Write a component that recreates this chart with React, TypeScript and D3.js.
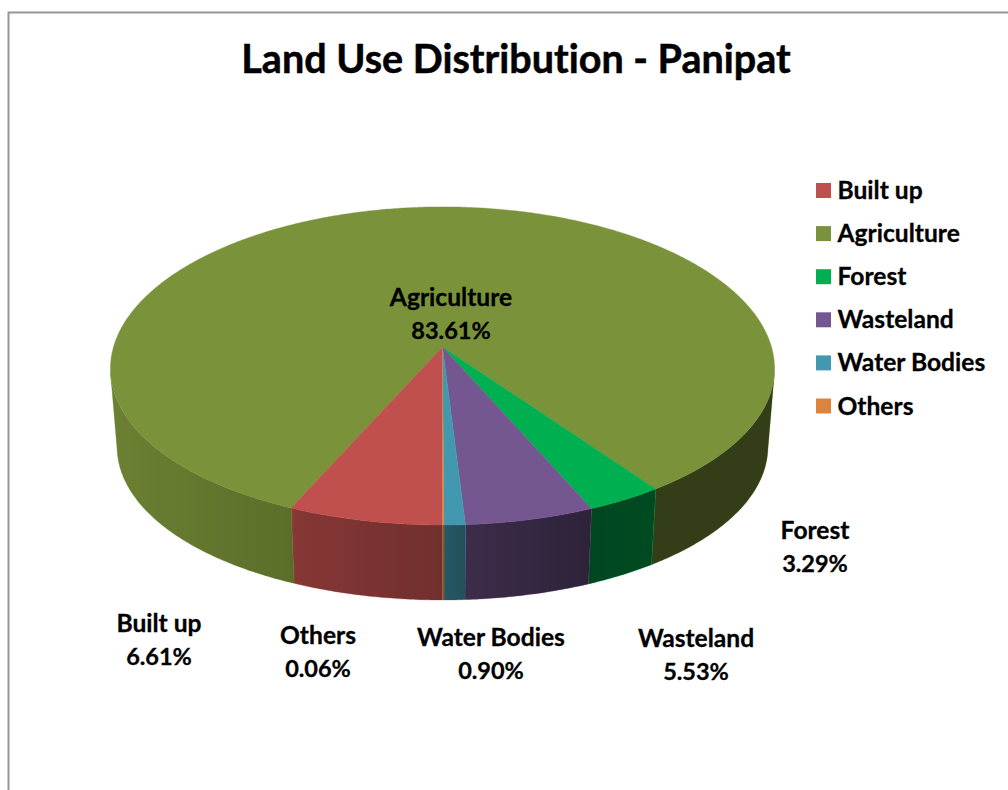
import React from "react";
import * as d3 from "d3";

const titleText = "Land Use Distribution - Panipat";
const categories = ["Built up", "Agriculture", "Forest", "Wasteland", "Water Bodies", "Others"];
const shares = [6.61, 83.61, 3.29, 5.53, 0.9, 0.06];
const shareLabels = ["6.61%", "83.61%", "3.29%", "5.53%", "0.90%", "0.06%"];
const colors = ["#c0504d", "#7a9239", "#00b050", "#745790", "#4198af", "#db843d"];

// layout: where each data label is centred (x, first baseline)
const labelAnchors: [number, number][] = [
  [159, 632], [451, 306], [815, 539], [696, 647], [491, 646], [318, 644],
];

const W = 1008, H = 790;
const FONT = "Lato, 'Open Sans', sans-serif";
const ax = 442.5, ay = 347, R = 329, S = 156.8, P = 0.119, PX = 0.135;
const nadirY = 4275, shrink = 0.98;

type Pt = [number, number];
const top = (a: number): Pt => {
  const X = Math.sin(a), Y = -Math.cos(a);
  return [ax + (R * X) / (1 - PX * Y), ay + (S * Y) / (1 - P * Y)];
};
const bottom = (a: number): Pt => {
  const [x, y] = top(a);
  return [ax + (x - ax) * shrink, nadirY + (y - nadirY) * shrink];
};
const line = d3.line<Pt>().x(d => d[0]).y(d => d[1]);
const steps = (a0: number, a1: number) => {
  const n = Math.max(2, Math.ceil(Math.abs(a1 - a0) / 0.01));
  return d3.range(n + 1).map(i => a0 + ((a1 - a0) * i) / n);
};

const arcs = d3.pie<number>().sort(null).startAngle(Math.PI).endAngle(3 * Math.PI)(shares);

// where the wall's outline leaves the top face (tangent seen from the vanishing point)
const frontH = S / (1 - P), backH = S / (1 + P);
const centreY = ay + (frontH - backH) / 2;
const semiH = (frontH + backH) / 2;
const tangentDy = centreY + (semiH * semiH) / (nadirY - centreY) - ay;
const tangentOffset = Math.asin(tangentDy / (S + tangentDy * P));
const wallFrom = Math.PI / 2 + tangentOffset;
const wallTo = 1.5 * Math.PI - tangentOffset;

const shadeStops: [number, number][] = [
  [110, 0.12], [290, 0.25], [296, 0.31], [440, 0.41], [470, 0.49], [585, 0.6], [650, 0.58], [775, 0.58],
];

const textStyle = { fontVariantLigatures: "none" as const };

export default function App() {
  const sides = arcs.map(d => {
    const twoPi = 2 * Math.PI;
    const ranges: [number, number][] = [];
    for (const k of [0, twoPi]) {
      const lo = Math.max(d.startAngle - k, wallFrom);
      const hi = Math.min(d.endAngle - k, wallTo);
      if (lo < hi) ranges.push([lo, hi]);
    }
    return ranges.map(([lo, hi]) => {
      const s = steps(lo, hi);
      return (line([...s.map(top), ...s.slice().reverse().map(bottom)]) as string) + "Z";
    }).join("");
  });
  const faces = arcs.map(d =>
    (line([[ax, ay], ...steps(d.startAngle, d.endAngle).map(top)]) as string) + "Z");

  return (
    <svg width={W} height={H} style={{ position: "absolute", left: 0, top: 0, background: "#fff" }}>
      <defs>
        <linearGradient id="shade" gradientUnits="userSpaceOnUse" x1={110} x2={775} y1={0} y2={0}>
          {shadeStops.map(([x, o]) => (
            <stop key={x} offset={(x - 110) / 665} stopColor="#000" stopOpacity={o} />
          ))}
        </linearGradient>
      </defs>
      <path d="M8.5,790V12.5H1008" fill="none" stroke="#969696" strokeWidth={2} />
      <text x={516} y={73} textAnchor="middle" fontFamily={FONT} fontWeight={700} fontSize={39.5} fill="#000" stroke="#000" strokeWidth={0.5} style={textStyle}>{titleText}</text>

      {sides.map((p, i) => (
        <g key={i}>
          <path d={p} fill={colors[i]} stroke={colors[i]} strokeWidth={0.4} />
          <path d={p} fill="url(#shade)" />
        </g>
      ))}
      {[1, 0, 2, 3, 4, 5].map(i => (
        <path key={i} d={faces[i]} fill={colors[i]} stroke={colors[i]} strokeWidth={0.4} />
      ))}

      {categories.map((c, i) => (
        <g key={c}>
          <rect x={816} y={183 + i * 43.1} width={15} height={15} fill={colors[i]} />
          <text x={837.5} y={199 + i * 43.1} fontFamily={FONT} fontWeight={700} fontSize={24.6} fill="#000" stroke="#000" strokeWidth={0.3} style={textStyle}>{c}</text>
        </g>
      ))}
      {categories.map((c, i) => (
        <text key={c} textAnchor="middle" fontFamily={FONT} fontWeight={700} fontSize={24.6} fill="#000" stroke="#000" strokeWidth={0.3} style={textStyle}>
          <tspan x={labelAnchors[i][0]} y={labelAnchors[i][1]}>{c}</tspan>
          <tspan x={labelAnchors[i][0]} y={labelAnchors[i][1] + 33} fontSize={23.5}>{shareLabels[i]}</tspan>
        </text>
      ))}
    </svg>
  );
}
